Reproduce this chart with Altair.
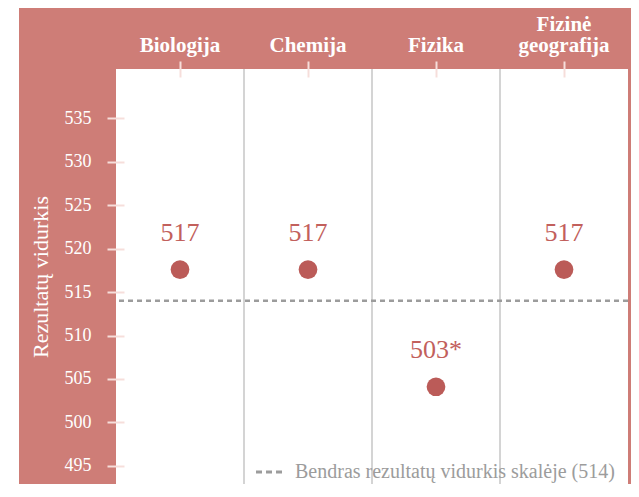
import altair as alt
import pandas as pd

subjects = ["Biologija", "Chemija", "Fizika", "Fizinė geografija"]
means = [517.6, 517.6, 504.1, 517.6]
labels = ["517", "517", "503*", "517"]
overall_mean = [514]
overall_label = "Bendras rezultatų vidurkis skalėje (514)"
y_ticks = [495, 500, 505, 510, 515, 520, 525, 530, 535]
y_domain = [492.9, 540.7]
y_title = "Rezultatų vidurkis"

RED = "#ce7d77"
DOT = "#bb5b58"
LABEL_RED = "#c2605c"
GRAY = "#9c9c9c"
SEP = "#d4d4d4"
TICK = "#f6dedb"
FONT = "Liberation Serif"
W, H = 512, 415

df = pd.DataFrame({"subject": subjects, "mean": means, "label": labels})
sep = pd.DataFrame({"subject": subjects[1:]})
avg = pd.DataFrame({"v": overall_mean})

xscale = alt.Scale(domain=subjects, paddingInner=0, paddingOuter=0)
yscale = alt.Scale(domain=y_domain, nice=False, zero=False)

x_axis = alt.Axis(
    orient="top", title=None, domain=False, grid=False,
    tickSize=16, offset=-8, tickColor=TICK, tickWidth=2,
    labelColor="white", labelFont=FONT, labelFontSize=21, labelFontWeight="bold",
    labelPadding=27, labelAngle=0, labelLineHeight=21,
    labelExpr="indexof(datum.value, ' ') > 0 ? split(datum.value, ' ') : ['', datum.value]",
)
y_axis = alt.Axis(
    values=y_ticks, title=y_title, domain=False, grid=False,
    tickSize=17, offset=-8, tickColor=TICK, tickWidth=2,
    labelColor="white", labelFont=FONT, labelFontSize=18, labelPadding=16,
    titleColor="white", titleFont=FONT, titleFontSize=22, titleFontWeight="normal",
    titlePadding=12,
)

X = alt.X("subject:N", scale=xscale, sort=subjects, axis=x_axis)
Y = alt.Y("mean:Q", scale=yscale, axis=y_axis)

strip = alt.Chart(avg).mark_rect(color="white").encode(
    x=alt.value(-108), x2=alt.value(-97), y=alt.value(-70), y2=alt.value(H + 10)
)

seps = alt.Chart(sep).mark_rule(color=SEP, strokeWidth=2).encode(
    x=alt.X("subject:N", bandPosition=0, scale=xscale, sort=subjects, axis=x_axis)
)

avg_line = alt.Chart(avg).mark_rule(color=GRAY, strokeDash=[5, 4], strokeWidth=2.5).encode(
    y=alt.Y("v:Q", scale=yscale, axis=y_axis)
)

points = alt.Chart(df).mark_circle(size=350, opacity=1, color=DOT).encode(x=X, y=Y)

texts = alt.Chart(df).mark_text(
    dy=-29, baseline="alphabetic", fontSize=26, font=FONT, color=LABEL_RED
).encode(x=X, y=Y, text="label:N")

leg_dash = alt.Chart(avg).mark_rule(color=GRAY, strokeDash=[6, 4], strokeWidth=3).encode(
    x=alt.value(140), x2=alt.value(166), y=alt.value(403)
)
leg_text = alt.Chart(avg).mark_text(
    align="left", baseline="alphabetic", fontSize=20, font=FONT, color=GRAY
).encode(x=alt.value(179), y=alt.value(409), text=alt.value(overall_label))

chart = alt.layer(strip, seps, avg_line, points, texts, leg_dash, leg_text).properties(
    width=W, height=H,
    padding={"left": 108, "top": 61, "right": 3, "bottom": 0},
    autosize=alt.AutoSizeParams(type="none"),
    background=RED,
).configure_view(fill="white", stroke=None)

chart.save("out.html", embed_options={"renderer": "svg", "actions": False})
